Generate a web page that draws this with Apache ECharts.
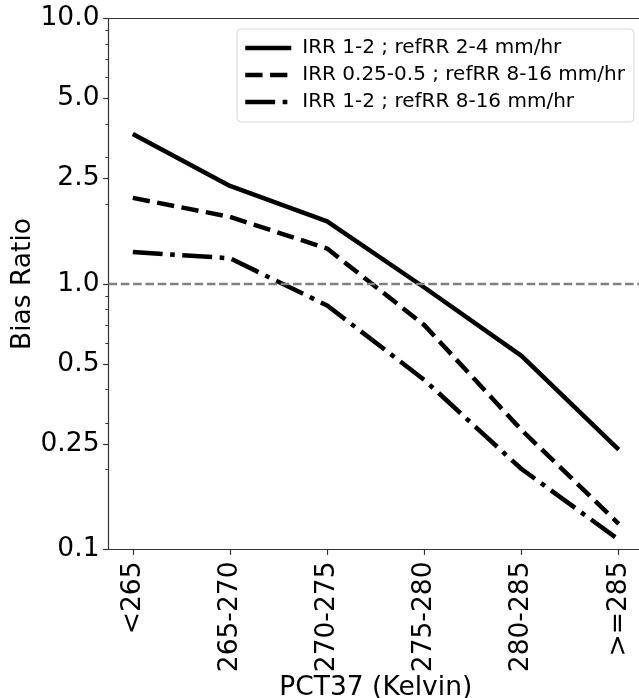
<!DOCTYPE html>
<html>
<head>
<meta charset="utf-8">
<script src="https://cdn.jsdelivr.net/npm/echarts@6/dist/echarts.min.js"></script>
<style>
  html, body { margin: 0; padding: 0; background: #fff; }
  #chart { width: 639px; height: 698px; }
</style>
</head>
<body>
<div id="chart"></div>
<script>
// categories on the x axis
var categories = ['<265', '265-270', '270-275', '275-280', '280-285', '>=285'];

// bias ratio per PCT37 bin
var solidVals = [3.67, 2.34, 1.72, 0.97, 0.536, 0.238];
var dashVals = [2.11, 1.79, 1.36, 0.70, 0.282, 0.125];
var dashDotVals = [1.32, 1.25, 0.83, 0.435, 0.201, 0.109];

var seriesNames = [
  'IRR 1-2 ; refRR 2-4 mm/hr',
  'IRR 0.25-0.5 ; refRR 8-16 mm/hr',
  'IRR 1-2 ; refRR 8-16 mm/hr'
];

// y tick labels (log axis)
var yTicks = [0.1, 0.25, 0.5, 1, 2.5, 5, 10];
var yTickLabels = ['0.1', '0.25', '0.5', '1.0', '2.5', '5.0', '10.0'];
var yMinorTicks = [0.2, 0.3, 0.4, 0.6, 0.7, 0.8, 0.9, 2, 3, 4, 6, 7, 8, 9];

var refLine = 1.0;

var FONT = 'DejaVu Sans';
var AXIS_FS = 26.5;

function toPairs(vals) {
  return vals.map(function (v, i) { return [i, v]; });
}

var chart = echarts.init(document.getElementById('chart'));

var xIdx = categories.map(function (c, i) { return i; });

var option = {
  animation: false,
  grid: {
    left: 108.5, top: 18.5, width: 534.5, height: 531,
    outerBoundsMode: 'none',
    containLabel: false,
    show: true, borderColor: '#333', borderWidth: 1.2, backgroundColor: 'transparent'
  },
  legend: {
    orient: 'vertical',
    left: 237, top: 29,
    padding: [9, 9, 10, 6],
    itemWidth: 46, itemHeight: 14, itemGap: 7,
    borderColor: '#d6d6d6', borderWidth: 1, borderRadius: 4,
    backgroundColor: '#fff',
    lineStyle: { width: 4.5 },
    itemStyle: { opacity: 0, borderWidth: 0 },
    textStyle: { fontFamily: FONT, fontSize: 20, color: '#000', padding: [0, 0, 0, 6] },
    data: seriesNames
  },
  xAxis: {
    type: 'value',
    min: -0.25, max: 5.25,
    name: 'PCT37 (Kelvin)',
    nameLocation: 'middle',
    nameGap: 125,
    nameMoveOverlap: false,
    nameTextStyle: { fontFamily: FONT, fontSize: AXIS_FS, color: '#000' },
    axisLine: { show: false, onZero: false },
    splitLine: { show: false },
    axisTick: { show: true, customValues: xIdx, length: 5.4, lineStyle: { color: '#333', width: 1.2 } },
    axisLabel: {
      customValues: xIdx,
      rotate: 90,
      margin: 12,
      fontFamily: FONT, fontSize: AXIS_FS, color: '#000',
      formatter: function (v) { return categories[Math.round(v)]; }
    }
  },
  yAxis: [{
    type: 'log',
    logBase: 10,
    min: 0.1, max: 10,
    name: 'Bias Ratio',
    nameLocation: 'middle',
    nameGap: 72,
    nameMoveOverlap: false,
    nameTextStyle: { fontFamily: FONT, fontSize: AXIS_FS, color: '#000' },
    axisLine: { show: false, onZero: false },
    splitLine: { show: false },
    axisTick: { show: true, customValues: yTicks, length: 5.4, lineStyle: { color: '#333', width: 1.2 } },
    axisLabel: {
      customValues: yTicks,
      margin: 9,
      fontFamily: FONT, fontSize: AXIS_FS, color: '#000',
      formatter: function (v) {
        for (var i = 0; i < yTicks.length; i++) {
          if (Math.abs(yTicks[i] - v) < 1e-6) return yTickLabels[i];
        }
        return '';
      }
    }
  }, {
    // minor ticks only
    type: 'log',
    logBase: 10,
    min: 0.1, max: 10,
    position: 'left',
    axisLine: { show: false, onZero: false },
    splitLine: { show: false },
    axisLabel: { show: false },
    axisTick: { show: true, customValues: yMinorTicks, length: 3.1, lineStyle: { color: '#333', width: 1 } }
  }],
  series: [{
    name: seriesNames[0],
    type: 'line',
    symbol: 'none',
    data: toPairs(solidVals),
    lineStyle: { color: '#000', width: 4.5, type: 'solid' },
    itemStyle: { color: '#000' },
    markLine: {
      silent: true,
      symbol: 'none',
      label: { show: false },
      lineStyle: { color: '#808080', width: 2.4, type: [8.6, 3.7] },
      data: [{ yAxis: refLine }]
    },
    z: 3
  }, {
    name: seriesNames[1],
    type: 'line',
    symbol: 'none',
    data: toPairs(dashVals),
    lineStyle: { color: '#000', width: 4.5, type: [17.3, 7.5] },
    itemStyle: { color: '#000' },
    z: 3
  }, {
    name: seriesNames[2],
    type: 'line',
    symbol: 'none',
    data: toPairs(dashDotVals),
    lineStyle: { color: '#000', width: 4.5, type: [29.9, 7.5, 4.7, 7.5] },
    itemStyle: { color: '#000' },
    z: 3
  }]
};

chart.setOption(option);
</script>
</body>
</html>
